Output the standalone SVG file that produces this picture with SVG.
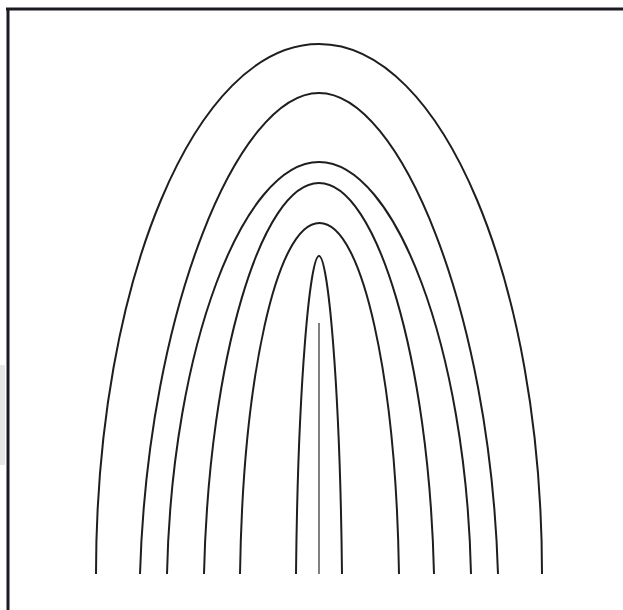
<svg xmlns="http://www.w3.org/2000/svg" width="623" height="610" viewBox="0 0 623 610">
<style>
.arch{fill:none;stroke:#1e1e1e;stroke-width:2;stroke-linecap:butt}
.axis{fill:none;stroke:#808080;stroke-width:2}
.frame{fill:none;stroke:#1a1a24;stroke-width:3}
</style>
<rect x="0" y="0" width="623" height="610" fill="#ffffff"/>
<rect x="0" y="365" width="5" height="100" fill="#e6e6e6"/>
<g id="frame">
<line class="frame" x1="6" y1="9" x2="623" y2="9"/>
<line class="frame" x1="8" y1="8" x2="8" y2="610"/>
</g>
<g id="arch1"><path class="arch" d="M96,574 C96,281.3 195.8,44 319,44 C442.2,44 542,281.3 542,574"/></g>
<g id="arch2"><path class="arch" d="M140,574 C148,309.5 238.5,93 319,93 C399.5,93 490,309.5 498,574"/></g>
<g id="arch3"><path class="arch" d="M167,574 C172,347.4 243,162 319,162 C395,162 466,347.4 471,574"/></g>
<g id="arch4"><path class="arch" d="M204,574 C209,359 261.5,183 319,183 C376.5,183 429,359 434,574"/></g>
<g id="arch5"><path class="arch" d="M240,574 C243,381 275.8,223 319.5,223 C363.2,223 396,381 399,574"/></g>
<g id="arch6"><path class="arch" d="M296,574 C298,383.2 310,256 319,256 C328,256 340,383.2 342,574"/></g>
<g id="axis"><line class="axis" x1="319" y1="323" x2="319" y2="574"/></g>
</svg>
